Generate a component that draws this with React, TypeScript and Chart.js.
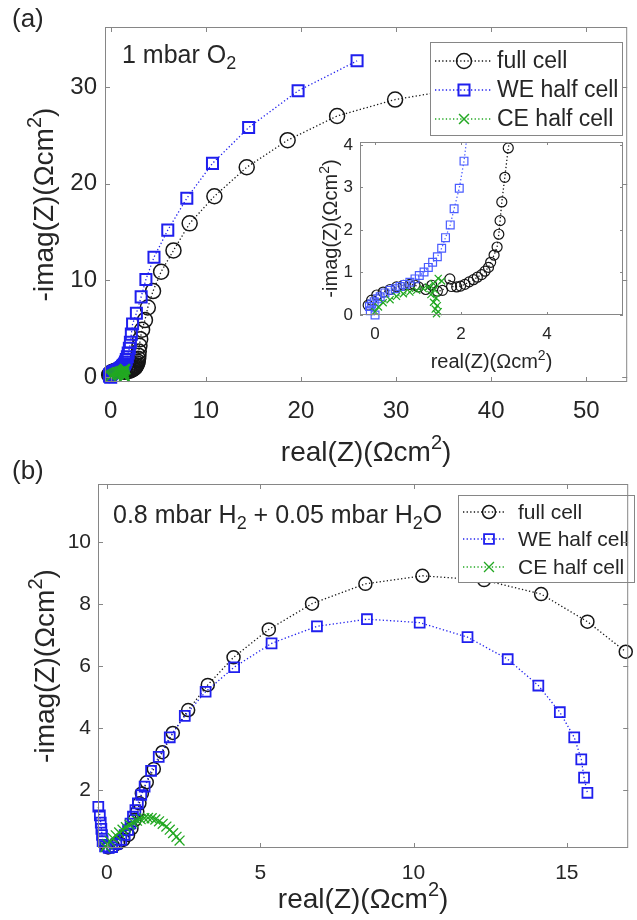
import { useEffect, useRef } from 'react';
import { Chart, registerables } from 'chart.js';

Chart.register(...registerables);

const W = 637;
const H = 920;
const FONT = '"Liberation Sans", Arial, Helvetica, sans-serif';
const TEXT = '#262626';
const FRAME = '#868686';
const BLACK = '#161616';
const BLUE = '#1f1fee';
const BLUE_LIGHT = '#4a5cff';
const GREEN = '#22a822';

const SERIES = ['full cell', 'WE half cell', 'CE half cell'];

// (a) 1 mbar O2 — real / -imag parts, ohm cm^2
const O2_FULL_RE = [-0.16, -0.08, 0.04, 0.19, 0.35, 0.5, 0.66, 0.81, 0.93, 1.01, 1.18, 1.32, 1.45, 1.57, 1.74, 1.78, 1.9, 1.99, 2.09, 2.19, 2.29, 2.38, 2.48, 2.56, 2.64, 2.69, 2.77, 2.84, 2.88, 2.91, 2.95, 3.02, 3.1, 3.3, 3.6, 3.9, 4.45, 5.3, 6.6, 8.3, 10.9, 14.3, 18.6, 23.8, 29.9, 36.0];
const O2_FULL_IM = [0.23, 0.35, 0.47, 0.54, 0.6, 0.66, 0.7, 0.72, 0.7, 0.66, 0.6, 0.7, 0.56, 0.58, 0.85, 0.67, 0.66, 0.68, 0.72, 0.78, 0.83, 0.89, 0.95, 1.03, 1.12, 1.24, 1.41, 1.6, 1.9, 2.22, 2.66, 3.24, 3.93, 4.9, 5.9, 7.2, 8.9, 10.9, 13.1, 15.9, 18.7, 21.7, 24.5, 27.0, 28.7, 29.7];
const O2_WE_RE = [0.0, -0.11, -0.13, -0.08, -0.02, 0.06, 0.12, 0.23, 0.35, 0.47, 0.58, 0.7, 0.81, 0.93, 1.03, 1.14, 1.24, 1.34, 1.45, 1.55, 1.64, 1.75, 1.84, 1.96, 2.07, 2.17, 2.3, 2.7, 3.2, 3.7, 4.55, 6.0, 8.0, 10.7, 14.5, 19.7, 25.9];
const O2_WE_IM = [0.0, 0.1, 0.2, 0.26, 0.31, 0.38, 0.43, 0.52, 0.58, 0.62, 0.67, 0.72, 0.77, 0.85, 0.93, 1.01, 1.12, 1.24, 1.37, 1.57, 1.82, 2.12, 2.5, 2.98, 3.62, 4.45, 5.5, 6.6, 8.3, 10.1, 12.4, 15.2, 18.5, 22.1, 25.8, 29.6, 32.7];
const O2_CE_RE = [0.0, 0.08, 0.19, 0.35, 0.5, 0.66, 0.81, 0.97, 1.12, 1.24, 1.36, 1.47, 1.55, 1.38, 1.3, 1.42, 1.36, 1.45, 1.4, 1.47, 1.43];
const O2_CE_IM = [0.08, 0.19, 0.29, 0.36, 0.44, 0.5, 0.54, 0.58, 0.62, 0.66, 0.74, 0.86, 0.8, 0.6, 0.48, 0.4, 0.3, 0.22, 0.14, 0.08, 0.03];

// (b) 0.8 mbar H2 + 0.05 mbar H2O
const H2_FULL_RE = [0.04, 0.2, 0.36, 0.53, 0.69, 0.8, 0.9, 0.99, 1.06, 1.14, 1.3, 1.53, 1.81, 2.15, 2.65, 3.29, 4.13, 5.28, 6.69, 8.43, 10.29, 12.3, 14.16, 15.67, 16.92];
const H2_FULL_IM = [0.15, 0.19, 0.28, 0.39, 0.55, 0.76, 1.03, 1.3, 1.57, 1.89, 2.25, 2.68, 3.22, 3.84, 4.58, 5.39, 6.28, 7.18, 8.01, 8.65, 8.91, 8.77, 8.32, 7.43, 6.46];
const H2_WE_RE = [-0.28, -0.23, -0.2, -0.18, -0.16, -0.14, -0.06, 0.06, 0.17, 0.31, 0.47, 0.58, 0.69, 0.77, 0.85, 0.93, 1.01, 1.12, 1.23, 1.44, 1.69, 2.05, 2.54, 3.22, 4.15, 5.37, 6.85, 8.48, 10.2, 11.76, 13.07, 14.07, 14.77, 15.24, 15.47, 15.56, 15.67];
const H2_WE_IM = [1.46, 1.18, 0.95, 0.75, 0.55, 0.35, 0.18, 0.13, 0.16, 0.26, 0.39, 0.55, 0.71, 0.92, 1.14, 1.35, 1.57, 1.84, 2.11, 2.62, 3.07, 3.7, 4.39, 5.17, 5.96, 6.73, 7.28, 7.51, 7.4, 6.93, 6.22, 5.37, 4.51, 3.7, 2.99, 2.4, 1.91];
const H2_CE_RE = [-0.05, 0.02, 0.1, 0.19, 0.29, 0.4, 0.51, 0.62, 0.74, 0.86, 0.98, 1.1, 1.22, 1.34, 1.46, 1.58, 1.7, 1.82, 1.94, 2.05, 2.16, 2.27, 2.37];
const H2_CE_IM = [0.16, 0.25, 0.35, 0.45, 0.54, 0.63, 0.72, 0.8, 0.88, 0.95, 1.01, 1.06, 1.09, 1.1, 1.09, 1.05, 0.99, 0.91, 0.82, 0.72, 0.61, 0.49, 0.37];

// axis ticks
const O2_X_TICKS = [0, 10, 20, 30, 40, 50];
const O2_Y_TICKS = [0, 10, 20, 30];
const INSET_X_TICKS = [0, 2, 4];
const INSET_Y_TICKS = [0, 1, 2, 3, 4];
const H2_X_TICKS = [0, 5, 10, 15];
const H2_Y_TICKS = [2, 4, 6, 8, 10];

type Seg = { t: string; s?: 'sup' | 'sub' };
const X_TITLE: Seg[] = [{ t: 'real(Z)(\u03A9cm' }, { t: '2', s: 'sup' }, { t: ')' }];
const Y_TITLE: Seg[] = [{ t: '-imag(Z)(\u03A9cm' }, { t: '2', s: 'sup' }, { t: ')' }];

function segFont(size: number, s?: string) {
  return `${s ? Math.round(size * 0.7) : size}px ${FONT}`;
}

function richWidth(ctx: CanvasRenderingContext2D, segs: Seg[], size: number) {
  let w = 0;
  for (const g of segs) {
    ctx.font = segFont(size, g.s);
    w += ctx.measureText(g.t).width;
  }
  return w;
}

function drawRich(ctx: CanvasRenderingContext2D, segs: Seg[], x: number, y: number, size: number, align: 'left' | 'center' = 'left') {
  let cx = align === 'center' ? x - richWidth(ctx, segs, size) / 2 : x;
  ctx.textAlign = 'left';
  ctx.textBaseline = 'alphabetic';
  for (const g of segs) {
    ctx.font = segFont(size, g.s);
    const dy = g.s === 'sup' ? -size * 0.42 : g.s === 'sub' ? size * 0.24 : 0;
    ctx.fillText(g.t, cx, y + dy);
    cx += ctx.measureText(g.t).width;
  }
}

function drawMarker(ctx: CanvasRenderingContext2D, style: string, x: number, y: number, r: number, color: string, lw: number) {
  ctx.save();
  ctx.setLineDash([]);
  ctx.strokeStyle = color;
  ctx.lineWidth = lw;
  ctx.beginPath();
  const h = r * Math.SQRT1_2;
  if (style === 'circle') {
    ctx.arc(x, y, r, 0, Math.PI * 2);
  } else if (style === 'rect') {
    ctx.rect(x - h, y - h, 2 * h, 2 * h);
  } else {
    ctx.moveTo(x - h, y - h);
    ctx.lineTo(x + h, y + h);
    ctx.moveTo(x + h, y - h);
    ctx.lineTo(x - h, y + h);
  }
  ctx.stroke();
  ctx.restore();
}

const DASH = [1.3, 2.3];

type Look = { color: string; style: string; r: number; lw: number };

function series(label: string, xs: number[], ys: number[], look: Look, order: number, clip: any) {
  return {
    label,
    data: xs.map((x, i) => ({ x, y: ys[i] })),
    showLine: true,
    tension: 0,
    borderColor: look.color,
    borderWidth: 1.3,
    borderDash: DASH,
    pointStyle: look.style,
    pointRadius: look.r,
    pointHoverRadius: look.r,
    pointBorderColor: look.color,
    pointBackgroundColor: 'rgba(0,0,0,0)',
    pointBorderWidth: look.lw,
    order,
    clip,
  };
}

function axis(min: number, max: number, ticks: number[], size: number, pad: number, fit: (s: any) => void) {
  return {
    type: 'linear',
    min,
    max,
    bounds: 'data',
    afterBuildTicks: (s: any) => {
      s.ticks = ticks.map((v) => ({ value: v }));
    },
    afterFit: fit,
    grid: { display: false, drawTicks: false },
    border: { display: false },
    ticks: { font: { family: FONT, size }, color: TEXT, padding: pad, autoSkip: false, maxRotation: 0 },
  };
}

// box around the plotting area with inward tick marks on all four sides
function framePlugin(len: number) {
  return {
    id: 'frame',
    afterDraw(chart: any) {
      const { ctx, chartArea: a, scales } = chart;
      ctx.save();
      ctx.strokeStyle = FRAME;
      ctx.lineWidth = 1;
      ctx.setLineDash([]);
      ctx.strokeRect(a.left + 0.5, a.top + 0.5, a.right - a.left - 1, a.bottom - a.top - 1);
      ctx.beginPath();
      for (const t of scales.x.ticks) {
        const px = Math.round(scales.x.getPixelForValue(t.value)) + 0.5;
        ctx.moveTo(px, a.bottom);
        ctx.lineTo(px, a.bottom - len);
        ctx.moveTo(px, a.top);
        ctx.lineTo(px, a.top + len);
      }
      for (const t of scales.y.ticks) {
        const py = Math.round(scales.y.getPixelForValue(t.value)) + 0.5;
        ctx.moveTo(a.left, py);
        ctx.lineTo(a.left + len, py);
        ctx.moveTo(a.right, py);
        ctx.lineTo(a.right - len, py);
      }
      ctx.stroke();
      ctx.restore();
    },
  };
}

function titlePlugin(size: number, xBase: number, yBase: number) {
  return {
    id: 'titles',
    afterDraw(chart: any) {
      const { ctx, chartArea: a } = chart;
      ctx.save();
      ctx.fillStyle = TEXT;
      drawRich(ctx, X_TITLE, (a.left + a.right) / 2, xBase, size, 'center');
      ctx.translate(yBase, (a.top + a.bottom) / 2);
      ctx.rotate(-Math.PI / 2);
      drawRich(ctx, Y_TITLE, 0, 0, size, 'center');
      ctx.restore();
    },
  };
}

function notePlugin(items: { segs: Seg[]; x: number; y: number; size: number }[]) {
  return {
    id: 'notes',
    afterDraw(chart: any) {
      const ctx = chart.ctx;
      ctx.save();
      ctx.fillStyle = TEXT;
      for (const it of items) drawRich(ctx, it.segs, it.x, it.y, it.size);
      ctx.restore();
    },
  };
}

type LegendSpec = { box: [number, number, number, number]; rows: number[]; line: [number, number]; mark: number; textX: number; size: number; looks: Look[] };

function legendPlugin(spec: LegendSpec) {
  return {
    id: 'boxLegend',
    afterDatasetsDraw(chart: any) {
      const ctx = chart.ctx;
      const [x0, y0, x1, y1] = spec.box;
      ctx.save();
      ctx.fillStyle = '#ffffff';
      ctx.fillRect(x0, y0, x1 - x0, y1 - y0);
      ctx.strokeStyle = FRAME;
      ctx.lineWidth = 1;
      ctx.strokeRect(x0 + 0.5, y0 + 0.5, x1 - x0 - 1, y1 - y0 - 1);
      SERIES.forEach((name, i) => {
        const y = spec.rows[i];
        const lk = spec.looks[i];
        ctx.save();
        ctx.strokeStyle = lk.color;
        ctx.lineWidth = 1.3;
        ctx.setLineDash(DASH);
        ctx.beginPath();
        ctx.moveTo(spec.line[0], y);
        ctx.lineTo(spec.line[1], y);
        ctx.stroke();
        ctx.restore();
        drawMarker(ctx, lk.style, spec.mark, y, lk.r, lk.color, lk.lw);
        ctx.fillStyle = TEXT;
        ctx.font = `${spec.size}px ${FONT}`;
        ctx.textAlign = 'left';
        ctx.textBaseline = 'middle';
        ctx.fillText(name, spec.textX, y + 1);
      });
      ctx.restore();
    },
  };
}

const insetBackground = {
  id: 'insetBackground',
  beforeDatasetsDraw(chart: any) {
    const { ctx, chartArea: a } = chart;
    ctx.save();
    ctx.fillStyle = '#ffffff';
    ctx.fillRect(a.left, a.top, a.right - a.left, a.bottom - a.top);
    ctx.restore();
  },
};

type Area = { left: number; top: number; right: number; bottom: number };

function makeConfig(area: Area, xs: any, ys: any, datasets: any[], plugins: any[]) {
  return {
    type: 'scatter',
    data: { datasets },
    options: {
      responsive: false,
      animation: false,
      devicePixelRatio: 1,
      events: [],
      layout: { padding: { left: 0, top: area.top, right: W - area.right, bottom: 0 } },
      scales: {
        x: axis(xs.min, xs.max, xs.ticks, xs.size, xs.pad, (s: any) => { s.height = H - area.bottom; }),
        y: axis(ys.min, ys.max, ys.ticks, ys.size, ys.pad, (s: any) => { s.width = area.left; }),
      },
      plugins: { legend: { display: false }, tooltip: { enabled: false } },
    },
    plugins,
  } as any;
}

const LOOK_A: Look[] = [
  { color: BLACK, style: 'circle', r: 7.5, lw: 1.5 },
  { color: BLUE, style: 'rect', r: 7.8, lw: 2 },
  { color: GREEN, style: 'crossRot', r: 7, lw: 1.5 },
];
const LOOK_IN: Look[] = [
  { color: BLACK, style: 'circle', r: 5, lw: 1.2 },
  { color: BLUE_LIGHT, style: 'rect', r: 5.5, lw: 1.2 },
  { color: GREEN, style: 'crossRot', r: 5, lw: 1.2 },
];
const LOOK_B: Look[] = [
  { color: BLACK, style: 'circle', r: 6.5, lw: 1.5 },
  { color: BLUE, style: 'rect', r: 7, lw: 1.8 },
  { color: GREEN, style: 'crossRot', r: 7, lw: 1.3 },
];

function o2Sets(looks: Look[], clip: any) {
  return [
    series(SERIES[0], O2_FULL_RE, O2_FULL_IM, looks[0], 2, clip),
    series(SERIES[1], O2_WE_RE, O2_WE_IM, looks[1], 1, clip),
    series(SERIES[2], O2_CE_RE, O2_CE_IM, looks[2], 0, clip),
  ];
}

function configA() {
  return makeConfig(
    { left: 105, top: 27, right: 634, bottom: 382 },
    { min: -0.6, max: 54.3, ticks: O2_X_TICKS, size: 24, pad: 15 },
    { min: -0.5, max: 36.2, ticks: O2_Y_TICKS, size: 24, pad: 8 },
    o2Sets(LOOK_A, false),
    [
      legendPlugin({ box: [430, 42, 623, 136], rows: [61, 90, 119], line: [435, 492], mark: 464, textX: 497, size: 23, looks: LOOK_A }),
      framePlugin(5),
      titlePlugin(28, 461, 53),
      notePlugin([
        { segs: [{ t: '(a)' }], x: 12, y: 27, size: 26 },
        { segs: [{ t: '1 mbar O' }, { t: '2', s: 'sub' }], x: 122, y: 63, size: 25 },
      ]),
    ],
  );
}

function configInset() {
  return makeConfig(
    { left: 360, top: 142, right: 623, bottom: 315 },
    { min: -0.35, max: 5.77, ticks: INSET_X_TICKS, size: 17, pad: 9 },
    { min: 0, max: 4.07, ticks: INSET_Y_TICKS, size: 17, pad: 7 },
    o2Sets(LOOK_IN, { left: 6, top: 0, right: 0, bottom: 6 }),
    [insetBackground, framePlugin(3), titlePlugin(20, 368, 337)],
  );
}

function configB() {
  return makeConfig(
    { left: 98, top: 484, right: 634, bottom: 848 },
    { min: -0.29, max: 17, ticks: H2_X_TICKS, size: 21, pad: 13 },
    { min: 0.13, max: 11.87, ticks: H2_Y_TICKS, size: 21, pad: 7 },
    [
      series(SERIES[0], H2_FULL_RE, H2_FULL_IM, LOOK_B[0], 2, false),
      series(SERIES[1], H2_WE_RE, H2_WE_IM, LOOK_B[1], 1, false),
      series(SERIES[2], H2_CE_RE, H2_CE_IM, LOOK_B[2], 0, false),
    ],
    [
      legendPlugin({ box: [458, 495, 635, 583], rows: [512, 539, 567], line: [463, 506], mark: 489, textX: 518, size: 21, looks: LOOK_B }),
      framePlugin(5),
      titlePlugin(28, 908, 54),
      notePlugin([
        { segs: [{ t: '(b)' }], x: 12, y: 479, size: 26 },
        {
          segs: [{ t: '0.8 mbar H' }, { t: '2', s: 'sub' }, { t: ' + 0.05 mbar H' }, { t: '2', s: 'sub' }, { t: 'O' }],
          x: 113,
          y: 523,
          size: 25,
        },
      ]),
    ],
  );
}

export default function App() {
  const refA = useRef<HTMLCanvasElement>(null);
  const refIn = useRef<HTMLCanvasElement>(null);
  const refB = useRef<HTMLCanvasElement>(null);

  useEffect(() => {
    const charts = [
      new Chart(refA.current as HTMLCanvasElement, configA()),
      new Chart(refIn.current as HTMLCanvasElement, configInset()),
      new Chart(refB.current as HTMLCanvasElement, configB()),
    ];
    return () => charts.forEach((c) => c.destroy());
  }, []);

  const layer = { position: 'absolute', left: 0, top: 0, width: W, height: H } as const;
  return (
    <div style={{ position: 'absolute', left: 0, top: 0, width: W, height: H, background: '#ffffff' }}>
      <canvas ref={refA} width={W} height={H} style={layer} />
      <canvas ref={refIn} width={W} height={H} style={layer} />
      <canvas ref={refB} width={W} height={H} style={layer} />
    </div>
  );
}
